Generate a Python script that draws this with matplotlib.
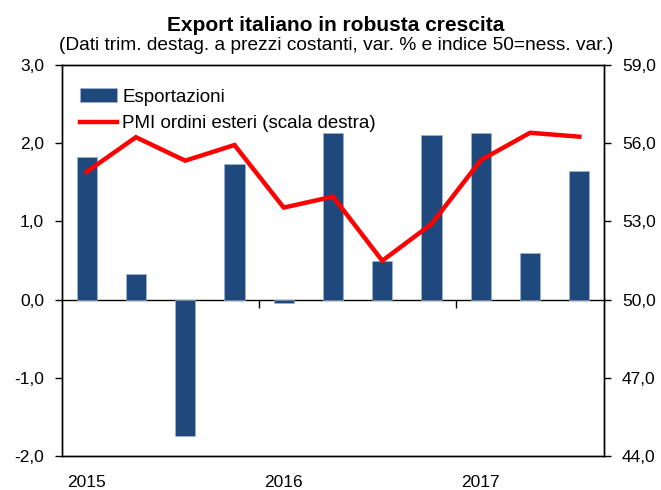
import matplotlib
matplotlib.use("Agg")
import matplotlib.pyplot as plt
from matplotlib.ticker import FuncFormatter
import numpy as np

plt.rcParams['font.family'] = ['Liberation Sans', 'DejaVu Sans']

quarters = ["2015 T1", "2015 T2", "2015 T3", "2015 T4",
            "2016 T1", "2016 T2", "2016 T3", "2016 T4",
            "2017 T1", "2017 T2", "2017 T3"]
export_vals = [1.82, 0.33, -1.74, 1.73, -0.04, 2.13, 0.49, 2.10, 2.13, 0.59, 1.64]
pmi_vals = [54.9, 56.23, 55.33, 55.93, 53.53, 53.95, 51.49, 52.9, 55.35, 56.4, 56.25]
year_labels = ["2015", "2016", "2017"]
year_pos = [0, 4, 8]
year_bounds = [3.5, 7.5]

title = "Export italiano in robusta crescita"
subtitle = "(Dati trim. destag. a prezzi costanti, var. % e indice 50=ness. var.)"

fig = plt.figure(figsize=(6.61, 4.90), dpi=100)
ax = fig.add_axes([62/661, 1-456/490, (604-62)/661, (456-65)/490])
x = np.arange(len(quarters))

bars = ax.bar(x, export_vals, width=0.41, color='#1F497D', edgecolor='#9DB3CF',
              linewidth=0.5, label='Esportazioni', zorder=2)
ax.set_xlim(-0.5, len(quarters) - 0.5)
ax.set_ylim(-2, 3)
ax.set_yticks(np.arange(-2, 3.01, 1))
comma = FuncFormatter(lambda v, p: f"{v:.1f}".replace('.', ','))
ax.yaxis.set_major_formatter(comma)
ax.tick_params(axis='y', direction='out', length=5, width=1, pad=8, labelsize=12.5)
ax.set_xticks(year_pos)
ax.set_xticklabels(year_labels)
ax.tick_params(axis='x', length=0, pad=14, labelsize=12.5)

ax2 = ax.twinx()
line, = ax2.plot(x, pmi_vals, color='#FF0000', lw=3.2, solid_joinstyle='miter',
                 label='PMI ordini esteri (scala destra)', zorder=3)
ax2.set_ylim(44, 59)
ax2.set_yticks(np.arange(44, 59.01, 3))
ax2.yaxis.set_major_formatter(comma)
ax2.tick_params(axis='y', direction='out', length=5, width=1, pad=8, labelsize=12.5)

# zero line with year-boundary ticks
sec = ax.secondary_xaxis(0.4)
sec.set_xticks(year_bounds)
sec.set_xticklabels(['', ''])
sec.tick_params(axis='x', direction='out', length=6, width=1)
sec.spines['bottom'].set_linewidth(1)

for a in (ax, ax2):
    for s in a.spines.values():
        s.set_linewidth(1)

ax.legend([bars, line], ['Esportazioni', 'PMI ordini esteri (scala destra)'],
          loc='upper left', bbox_to_anchor=(0.033, 0.94), frameon=False,
          fontsize=13.5, handlelength=2.0, handletextpad=0.25, labelspacing=0.5,
          borderpad=0, borderaxespad=0)

fig.text(0.508, 1 - 31/490, title, ha='center', va='baseline', fontsize=15, fontweight='bold')
fig.text(0.508, 1 - 50/490, subtitle, ha='center', va='baseline', fontsize=13.8)

fig.savefig('out.png', dpi=100)
